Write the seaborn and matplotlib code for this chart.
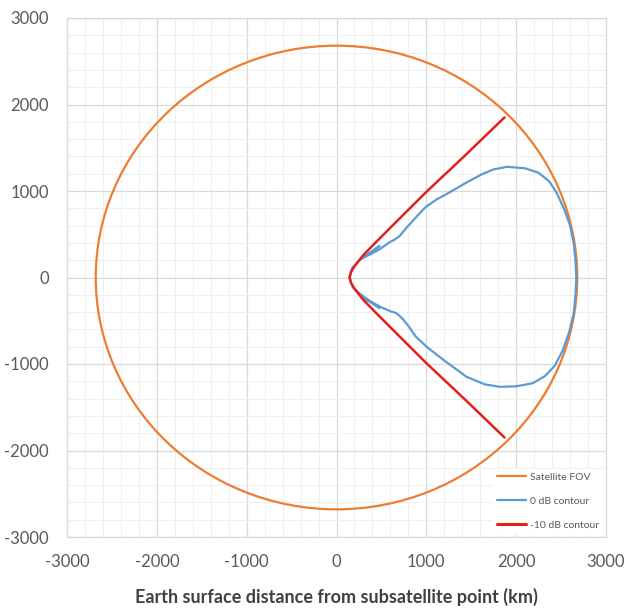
import numpy as np
import pandas as pd
import matplotlib
matplotlib.use('Agg')
import matplotlib.pyplot as plt
import seaborn as sns
from matplotlib.patches import Circle
from matplotlib.lines import Line2D
from matplotlib.ticker import MultipleLocator

# Satellite field of view (circle radius, km)
fov_radius_km = 2680

# 0 dB contour, traced from the right edge over the top, through the vertex and back along the bottom
zero_db_x = [2670, 2660, 2640, 2600, 2530, 2450, 2370, 2250, 2100, 1900, 1750, 1631, 1450, 1260, 1111, 1000,
             950, 880, 800, 702, 650, 591, 479, 380, 300, 479, 250, 175, 145,
             180, 256, 479, 300, 390, 500, 600, 665, 730, 800, 880, 1000, 1200, 1446, 1650, 1817, 2000,
             2185, 2320, 2430, 2520, 2590, 2640, 2660, 2670]
zero_db_y = [0, 200, 400, 600, 800, 980, 1110, 1210, 1262, 1280, 1250, 1200, 1100, 985, 900, 820,
             770, 690, 600, 480, 440, 407, 326, 270, 230, 364, 195, 110, 0,
             -110, -185, -352, -235, -285, -345, -390, -411, -470, -560, -680, -798, -960, -1147, -1235, -1264, -1258,
             -1222, -1140, -1020, -840, -630, -420, -200, 0]

# -10 dB contour
minus10_x = [1870, 1400, 1000, 700, 450, 300, 200, 160, 145, 160, 200, 300, 450, 700, 1000, 1400, 1870]
minus10_y = [1850, 1380, 990, 680, 420, 260, 130, 60, 0, -60, -130, -260, -420, -680, -990, -1380, -1850]

axis_ticks = [-3000, -2000, -1000, 0, 1000, 2000, 3000]

c_fov = '#ED7D31'
c_zero = '#5B9BD5'
c_m10 = '#E2201C'

sns.set_theme(style='white')
plt.rcParams['font.family'] = ['Lato', 'DejaVu Sans']
plt.rcParams['axes.unicode_minus'] = False

fig = plt.figure(figsize=(6.26, 6.11), dpi=100)
ax = fig.add_axes([67 / 626, 1 - 537 / 611, 539 / 626, 519 / 611])

ax.add_patch(Circle((0, 0), fov_radius_km, fill=False, edgecolor=c_fov, linewidth=1.6, zorder=3))
sns.lineplot(x=zero_db_x, y=zero_db_y, sort=False, estimator=None, color=c_zero,
             linewidth=1.6, ax=ax, zorder=4)
sns.lineplot(x=minus10_x, y=minus10_y, sort=False, estimator=None, color=c_m10,
             linewidth=1.8, ax=ax, zorder=5)

ax.set_xlim(-3000, 3000)
ax.set_ylim(-3000, 3000)
ax.set_xticks(axis_ticks)
ax.set_yticks(axis_ticks)
ax.set_xticklabels([str(t) for t in axis_ticks])
ax.set_yticklabels([str(t) for t in axis_ticks])
ax.xaxis.set_minor_locator(MultipleLocator(200))
ax.yaxis.set_minor_locator(MultipleLocator(200))
ax.grid(which='major', color='#d9d9d9', linewidth=0.9)
ax.grid(which='minor', color='#efefef', linewidth=0.7)
ax.set_axisbelow(True)
ax.tick_params(which='both', length=0, labelsize=12, labelcolor='#595959')
ax.tick_params(axis='x', pad=12)
ax.tick_params(axis='y', pad=13)
for s in ax.spines.values():
    s.set_color('#d9d9d9')
    s.set_linewidth(0.9)

ax.set_xlabel('Earth surface distance from subsatellite point (km)', fontsize=13,
              fontweight='bold', color='#404040', labelpad=13)
ax.set_ylabel('')

handles = [Line2D([], [], color=c_fov, linewidth=1.6),
           Line2D([], [], color=c_zero, linewidth=1.6),
           Line2D([], [], color=c_m10, linewidth=2.2)]
leg = ax.legend(handles, ['Satellite FOV', '0 dB contour', '-10 dB contour'],
                loc='lower right', fontsize=7.5, frameon=True, fancybox=False,
                handlelength=2.8, handletextpad=0.3, labelspacing=1.4,
                borderaxespad=0.3, labelcolor='#595959')
leg.get_frame().set_facecolor('white')
leg.get_frame().set_edgecolor('white')
leg.get_frame().set_alpha(1)

fig.savefig('out.png', dpi=100)
